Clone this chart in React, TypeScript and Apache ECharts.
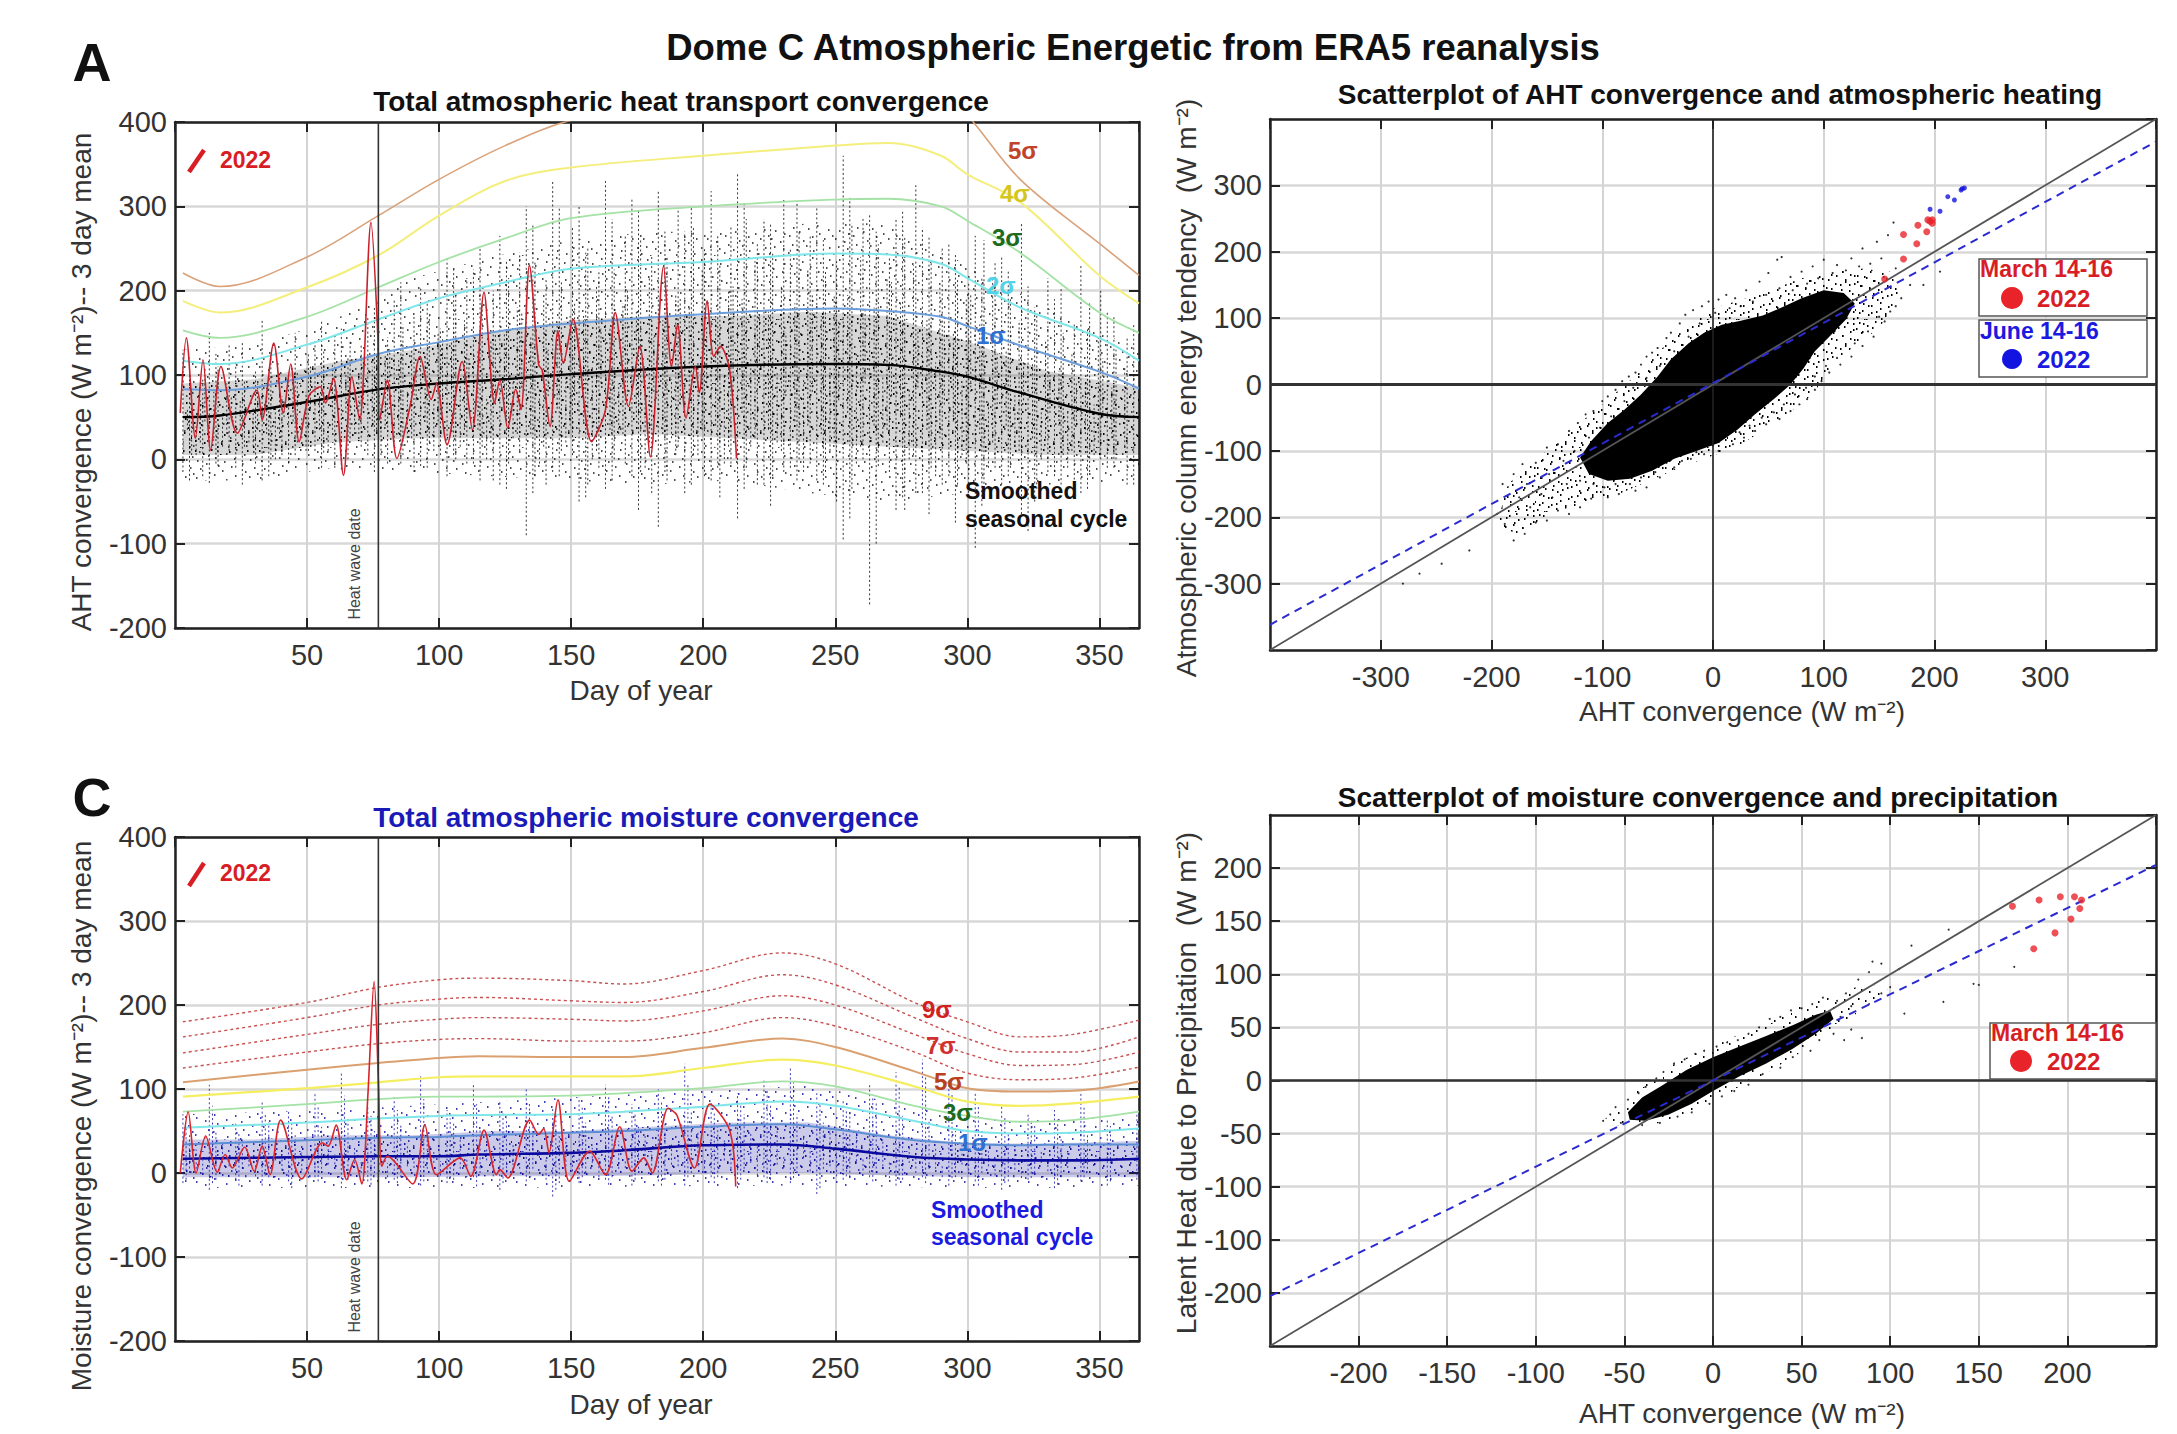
import React, { useEffect, useRef } from "react";
import * as echarts from "echarts";

const FONT = '"Liberation Sans", Arial, sans-serif';

// Shared sample days for the smooth climatology curves
const dayA = [3, 17, 50, 77, 100, 125, 150, 200, 250, 270, 290, 300, 320, 350, 365];
const sigma5A = [221, 205, 240, 289, 332, 372, 402, 430, 445, 448, 435, 408, 332, 256, 218];
const sigma4A = [188, 174, 204, 242, 289, 330, 346, 360, 372, 375, 360, 338, 305, 218, 185];
const sigma3A = [153, 144, 169, 204, 234, 262, 286, 300, 308, 309, 300, 283, 245, 174, 150];
const sigma2A = [117, 113, 136, 166, 191, 210, 226, 234, 244, 243, 232, 215, 180, 144, 117];
const sigma1A = [83, 82, 98, 125, 139, 153, 161, 172, 179, 176, 169, 158, 135, 104, 84];
const smoothA = [50, 52, 68, 83, 90, 95, 101, 110, 113, 112, 104, 98, 79, 54, 50];

const dayC = [3, 50, 77, 100, 115, 150, 170, 200, 230, 250, 280, 300, 320, 340, 365];
const sigma9C = [180, 203, 221, 230, 232, 229, 225, 241, 262, 249, 203, 180, 162, 165, 182];
const sigma8C = [162, 185, 200, 207, 209, 205, 203, 216, 236, 224, 185, 160, 144, 144, 162];
const sigma7C = [143, 165, 177, 183, 185, 183, 181, 193, 211, 200, 165, 142, 128, 129, 144];
const sigma6C = [125, 144, 154, 159, 160, 157, 157, 167, 185, 175, 144, 119, 111, 113, 126];
const sigma5C = [108, 123, 131, 137, 139, 138, 138, 149, 160, 150, 121, 101, 97, 98, 109];
const sigma4C = [91, 101, 108, 114, 115, 115, 115, 125, 135, 128, 103, 85, 80, 83, 91];
const sigma3C = [73, 82, 88, 91, 91, 92, 95, 101, 109, 103, 80, 68, 61, 63, 73];
const sigma2C = [54, 60, 65, 68, 69, 70, 73, 79, 85, 80, 62, 50, 47, 48, 53];
const sigma1C = [34, 39, 42, 43, 45, 48, 50, 55, 58, 52, 39, 35, 33, 34, 34];
const smoothC = [17, 19, 20, 20, 22, 24, 27, 33, 34, 29, 19, 16, 15, 15, 17];

// 2022 curves: day and value pairs read at each turning point
const red2022A = [[2,55],[4.3,144],[7.7,25],[10.6,118],[13.5,11],[17.4,110],[23.6,31],[31,82],[33,47],[37.4,138],[41,55],[43.8,113],[47,21],[50.7,75],[55,86],[57,67],[60,96],[63.8,-19],[67,98],[70,47],[71.3,94],[74.2,281],[76.8,146],[77.5,47],[80.4,94],[84,1],[89,63],[92.8,122],[97,71],[99,90],[103,17],[108.7,116],[112.6,35],[117,198],[121,67],[123,94],[126,37],[129,83],[131,59],[134.2,230],[137.7,112],[139,106],[142,39],[145,152],[147,114],[150.7,166],[157.7,21],[163,59],[166.7,174],[171.7,63],[176,134],[180,3],[185,229],[188,110],[190.3,160],[193.5,49],[197,110],[198.5,79],[201.5,188],[204,122],[206.5,134],[210,106],[212.6,1]];
const red2022C = [[2,0],[5,73],[8,0],[11.6,44],[16,1],[19,22],[21.7,6],[26.4,31],[30,2],[33,32],[36,-2],[40,63],[48,-7],[55.8,36],[58,32],[61,57],[65,-8],[68,16],[70.7,-13],[73,91],[75.4,228],[77,111],[78.3,8],[80.4,20],[90,-13],[94.6,57],[99,-2],[108,18],[112,-4],[117,51],[121.7,-2],[123,4],[126,-6],[134.3,63],[137.7,46],[139.6,53],[141.6,24],[145,87],[149.3,-10],[157,26],[163,-2],[168.4,55],[173,2],[177.5,18],[180.7,0],[186.7,77],[190,69],[196.7,6],[202.5,82],[210,51],[212.3,-16]];

// Daily spread of all years: high, low pairs, one pair every ten days
const noiseA1 = [130,-15,150,-28,115,-10,165,-25,95,-5,140,10,155,-12,170,5,190,15,205,-8,240,-20,225,-5,265,-30,300,-90,330,-15,300,-50,330,-35,310,-20,320,-80,270,-40,318,-25,340,-70,285,-30,250,-10,300,-25,360,-95,290,-172,285,-60,275,-40,255,-20,265,-105,240,-30,205,-85,190,-20,230,-40,175,-10,160,-30];
const noiseA2 = [85,5,110,-8,95,15,120,0,105,20,130,8,140,25,125,30,160,5,170,20,195,0,185,15,215,-5,235,-20,210,10,250,-30,225,0,260,-15,240,-25,275,5,230,-45,285,-10,245,-20,270,0,225,-15,280,-35,255,-8,265,-60,235,-10,215,-30,260,-45,190,-10,170,-35,150,5,185,-15,130,0,115,-25,145,5];
const noiseA3 = [70,20,90,30,60,15,105,25,80,10,115,35,100,30,125,40,135,25,150,45,165,35,140,20,180,30,190,15,170,40,205,10,185,30,215,20,195,5,225,35,200,15,235,25,205,10,225,40,195,20,240,15,215,35,230,5,205,25,190,-5,215,20,165,10,140,25,125,10,145,20,110,15,95,30];
const noiseA4 = [60,35,80,25,70,40,85,30,95,45,75,35,100,55,110,40,120,30,125,50,140,40,130,35,150,55,145,30,160,60,170,45,155,35,175,50,165,30,180,60,170,40,190,55,175,35,185,45,170,30,195,55,180,40,185,50,165,35,150,45,160,30,130,40,115,25,105,40,90,30,85,25];
const noiseA5 = [40,5,55,15,35,20,60,0,50,25,45,10,70,30,65,5,80,20,70,10,90,15,75,0,95,25,85,-5,100,20,110,0,90,30,105,-10,95,25,115,5,100,-5,120,15,105,20,95,-15,110,10,125,-5,100,20,85,0,115,-20,90,5,70,-10,80,15,60,0,55,-10,65,5];
const noiseA6 = [100,45,75,55,90,35,70,50,110,60,65,70,115,55,130,60,105,70,145,60,120,80,150,65,175,85,130,75,185,70,155,90,200,75,145,80,190,65,160,85,205,70,175,95,150,75,195,80,165,70,180,90,210,75,155,85,170,65,195,80,125,60,115,70,100,55,90,45,120,50];
const noiseA7 = [110,-25,125,-5,140,-30,100,-20,150,5,165,-10,120,0,180,-15,210,-5,185,-10,225,5,250,-25,235,-35,280,-40,300,-20,245,-45,285,-25,295,-60,270,-15,300,-30,265,-10,305,-35,280,-55,305,-25,260,-30,310,-70,270,-100,295,-45,265,-65,245,-75,215,-55,225,-20,180,-50,205,-30,155,-35,170,-10,125,-20];
const noiseA8 = [95,-20,135,10,105,-5,75,5,125,10,150,-10,135,15,145,-5,170,-15,155,5,215,-5,200,-25,245,10,215,-30,275,5,225,-10,265,-5,240,-40,295,15,250,-20,275,-5,255,-30,310,-15,265,-5,235,-50,285,0,240,-15,325,-40,250,-30,210,-45,235,-10,280,-65,215,-15,160,-40,200,0,145,-30,130,-5];
const noiseC1 = [70,-12,105,-20,60,-8,85,-15,75,-10,95,-5,120,-18,80,-10,90,-8,115,-15,75,-12,105,-5,85,-20,100,-10,78,-28,90,-12,105,-8,82,-15,100,-10,130,-15,85,-5,95,-18,110,-5,125,-12,95,-25,88,-8,105,-5,120,-15,135,-5,110,-15,95,-10,80,-20,70,-8,75,-18,95,-10,65,-15];
const noiseC2 = [45,0,50,-8,38,5,60,-5,45,0,55,5,65,-8,50,0,58,-5,48,5,60,-8,52,0,65,-5,55,5,48,-12,60,0,70,-5,55,5,62,-8,75,0,55,-5,70,5,80,-8,70,0,60,5,72,-5,85,0,68,-8,62,5,50,-5,45,0,48,-10,58,0,42,-5,50,5];
const noiseC3 = [28,5,35,12,22,8,30,15,25,3,38,10,32,6,28,14,35,8,25,12,40,5,30,15,36,4,28,18,42,8,30,12,38,5,45,15,35,10,50,8,40,15,48,12,55,10,45,18,52,8,48,14,40,8,32,12,30,5,36,10,26,8,34,4,28,12,25,6];
const noiseC4 = [15,-2,20,8,12,-4,18,3,10,-6,22,5,16,0,12,-5,20,6,14,-3,18,8,22,-4,12,5,16,-8,24,2,18,-5,14,6,26,-2,20,8,16,0,28,5,34,-3,22,6,30,2,24,-4,18,3,14,-6,20,0,10,-5,16,3,12,-3,8,-6,18,2];
const noiseC5 = [55,-8,80,-12,48,-15,72,-3,62,-18,78,-10,92,-5,68,-14,75,-12,88,-10,65,-6,82,-16,72,-12,85,-6,66,-20,78,-5,92,-14,70,-8,86,-15,105,-5,72,-12,82,-8,98,-12,108,-6,82,-18,76,-4,92,-10,102,-8,115,-12,96,-6,80,-15,68,-12,60,-6,64,-14,80,-5,56,-10,72,-8];

// Outlines of the spread: dense inner part and lighter outer part
const coreA = [[3,90],[30,95],[60,115],[90,130],[120,150],[150,165],[180,170],[210,170],[240,175],[270,170],[300,140],[330,105],[365,85],[365,5],[330,5],[300,10],[270,15],[240,20],[210,25],[180,30],[150,25],[120,25],[90,25],[60,20],[30,5],[3,5]];
const outerA = [[3,130],[30,135],[60,165],[90,215],[120,240],[150,260],[180,270],[210,270],[240,280],[270,280],[300,230],[330,180],[365,130],[365,-25],[330,-30],[300,-40],[270,-50],[240,-40],[210,-25],[180,-30],[150,-25],[120,-20],[90,-15],[60,-10],[30,-25],[3,-25]];
const coreC = [[3,40],[30,40],[60,45],[90,45],[120,50],[150,50],[180,55],[210,60],[240,60],[270,45],[300,35],[330,35],[365,38],[365,-5],[330,-5],[300,-5],[270,-3],[240,0],[210,0],[180,-3],[150,-4],[120,-4],[90,-5],[60,-5],[30,-5],[3,-5]];
const outerC = [[3,70],[60,75],[120,85],[180,95],[240,105],[270,85],[300,65],[330,65],[365,65],[365,-15],[330,-18],[300,-18],[240,-15],[180,-16],[120,-18],[60,-18],[3,-18]];

// Panel B
const marchB = [[155,159],[172,189],[172,226],[184,212],[185,240],[193,230],[194,248],[196,246],[198,248],[198,243]];
const juneB = [[196,264],[205,261],[212,283],[218,278],[224,293],[227,296],[225,295]];
const fitB = [[-400,-362],[400,366]];
const oneToOneB = [[-400,-400],[400,400]];
const densePolyB = [[-120,-110],[-110,-85],[-95,-58],[-80,-38],[-65,-15],[-50,12],[-38,38],[-22,62],[-8,78],[8,90],[25,96],[45,104],[62,116],[80,130],[100,142],[118,138],[128,122],[120,98],[105,72],[92,50],[82,25],[70,0],[55,-22],[38,-45],[22,-68],[5,-88],[-15,-100],[-35,-112],[-55,-130],[-75,-142],[-95,-145],[-112,-135]];
const haloPolyB = [[-195,-210],[-185,-150],[-140,-85],[-100,-30],[-62,25],[-40,65],[0,115],[40,135],[80,160],[130,175],[160,170],[170,135],[150,85],[110,35],[90,-15],[55,-60],[20,-95],[-30,-125],[-85,-165],[-140,-190],[-178,-225]];
const straysB = [[-190,-150],[-180,-135],[-172,-120],[-160,-118],[-150,-95],[-140,-90],[-130,-70],[-122,-58],[-115,-45],[-108,-40],[-100,-25],[-95,-18],[-88,-8],[-82,5],[-76,12],[-70,18],[-65,30],[-60,42],[-55,48],[-50,55],[-42,70],[-38,78],[-30,92],[-25,105],[-18,112],[-10,118],[-4,125],[5,128],[12,135],[20,130],[30,142],[42,155],[50,168],[58,188],[62,192],[70,162],[80,170],[90,178],[100,188],[112,180],[125,190],[135,205],[148,215],[158,225],[163,244],[-180,-235],[-170,-225],[-160,-208],[-150,-205],[-140,-190],[-130,-195],[-120,-185],[-110,-172],[-95,-170],[-85,-165],[-70,-160],[-60,-155],[-48,-140],[-35,-125],[-20,-112],[-8,-105],[5,-100],[18,-90],[28,-80],[38,-70],[48,-60],[60,-52],[70,-40],[78,-30],[85,-22],[92,-8],[98,5],[105,18],[115,30],[125,42],[135,58],[145,72],[155,95],[160,110],[170,130],[178,150],[190,150],[205,170],[-280,-300],[-265,-285],[-220,-250],[-245,-270],[-195,-195],[-188,-210],[-175,-170],[-168,-150],[-165,-185],[-155,-165],[-148,-135],[-145,-170],[-135,-115],[-132,-150],[-125,-100],[-120,-145],[-112,-80],[-108,-150],[-102,-65],[-98,-155],[-92,-48],[-88,-150],[-80,-25],[-75,-150],[-72,-5],[-65,-140],[-60,10],[-52,-132],[-48,28],[-42,-118],[-35,50],[-28,-115],[-22,72],[-15,-102],[-12,92],[0,-92],[2,108],[10,-80],[15,115],[24,-72],[25,118],[33,-62],[36,125],[44,-50],[48,135],[55,-42],[60,145],[64,-30],[72,142],[74,-15],[85,152],[84,-5],[95,160],[92,12],[108,168],[102,28],[120,172],[112,40],[132,178],[128,62],[142,182],[140,80],[152,190],[150,102],[165,175],[165,118]];
// Panel D
const marchD = [[169,164],[184,170],[196,173],[204,173],[208,170],[207,162],[202,152],[193,139],[181,124]];
const fitD = [[-250,-203],[250,203]];
const oneToOneD = [[-250,-250],[250,250]];
const densePolyD = [[-48,-30],[-40,-16],[-28,-4],[-15,10],[0,22],[15,32],[30,42],[45,52],[58,62],[66,66],[68,58],[58,44],[45,30],[30,16],[15,4],[0,-10],[-12,-22],[-25,-32],[-38,-38],[-47,-37]];
const haloPolyD = [[-62,-38],[-45,-12],[-20,18],[0,32],[30,55],[60,78],[85,90],[100,88],[80,62],[55,32],[25,2],[-5,-24],[-30,-40],[-50,-44]];
const straysD = [[-62,-38],[-58,-32],[-55,-25],[-52,-40],[-48,-18],[-42,-12],[-38,-6],[-32,2],[-28,8],[-22,16],[-16,20],[-10,25],[-5,28],[2,32],[8,36],[14,38],[20,44],[26,50],[32,58],[38,60],[44,66],[50,68],[56,72],[62,78],[70,75],[75,82],[82,95],[88,102],[95,110],[90,112],[105,105],[112,127],[133,142],[130,74],[147,91],[108,63],[84,40],[78,48],[74,38],[72,60],[68,44],[60,38],[55,28],[45,22],[38,12],[28,6],[20,-4],[12,-10],[5,-15],[-2,-22],[-12,-30],[-20,-34],[-30,-40],[-40,-42],[88,72],[95,82],[100,88],[78,70],[170,107],[150,90]];

const ticksDLabelOverride = [-150, "-100"];

// Stipple tile used as a fill style for the dense clouds
const stippleDots = [[3,2],[11,5],[19,1],[28,6],[37,3],[46,7],[55,2],[61,9],[6,11],[15,13],[23,10],[33,14],[41,12],[50,15],[58,18],[1,19],[10,21],[18,24],[27,20],[36,23],[44,19],[53,25],[62,27],[5,29],[13,31],[22,33],[31,29],[39,32],[48,28],[57,34],[2,38],[9,40],[17,37],[26,41],[35,38],[43,42],[52,39],[60,43],[7,47],[15,49],[24,46],[32,50],[41,47],[49,51],[56,48],[63,53],[3,56],[12,58],[20,55],[29,59],[38,56],[46,60],[54,57],[61,62],[8,63],[25,62],[43,63]];

function stipple(color: string, turned = false) {
  const c = document.createElement("canvas");
  c.width = 64; c.height = 64;
  const ctx = c.getContext("2d")!;
  ctx.fillStyle = color;
  stippleDots.forEach(([x, y]) => (turned ? ctx.fillRect(63 - y, x, 1.5, 2) : ctx.fillRect(x, y, 1.5, 2)));
  return { image: c.toDataURL(), repeat: "repeat", imageWidth: 64, imageHeight: 64 };
}

// Fixed page geometry of the four panels
const panels = [
  { left: 175, top: 122, width: 964, height: 506, xMin: 0, xMax: 365, xStep: 50, yMin: -200, yMax: 400, yStep: 100 },
  { left: 1270, top: 119, width: 886, height: 531, xMin: -400, xMax: 400, xStep: 100, yMin: -400, yMax: 400, yStep: 100 },
  { left: 175, top: 837, width: 964, height: 504, xMin: 0, xMax: 365, xStep: 50, yMin: -200, yMax: 400, yStep: 100 },
  { left: 1270, top: 815, width: 886, height: 531, xMin: -250, xMax: 250, xStep: 50, yMin: -250, yMax: 250, yStep: 50 },
];

const zip = (xs: number[], ys: number[]) => xs.map((x, i) => [x, ys[i]]);

function buildAxes() {
  const grid: any[] = [], xAxis: any[] = [], yAxis: any[] = [];
  panels.forEach((p, i) => {
    grid.push({ left: p.left, top: p.top, width: p.width, height: p.height, containLabel: false });
    const isSeason = p.xMin === 0;
    const common = {
      axisLine: { show: true, onZero: false, lineStyle: { color: "#222", width: 2.5 } },
      axisTick: { show: true, inside: true, length: 10, lineStyle: { color: "#222", width: 2 } },
    };
    const labelStyle = { color: "#333", fontFamily: FONT, fontSize: 29 };
    xAxis.push({
      type: "value", gridIndex: i, position: "bottom", min: p.xMin, max: p.xMax, interval: p.xStep, ...common,
      splitLine: { show: true, lineStyle: { color: "#d4d4d4", width: 2 } },
      axisLabel: { ...labelStyle, margin: 12, showMinLabel: false, showMaxLabel: false },
    });
    xAxis.push({
      type: "value", gridIndex: i, position: "top", min: p.xMin, max: p.xMax, interval: p.xStep, ...common,
      splitLine: { show: false }, axisLabel: { show: false },
    });
    yAxis.push({
      type: "value", gridIndex: i, position: "left", min: p.yMin, max: p.yMax, interval: p.yStep, ...common,
      splitLine: { show: true, lineStyle: { color: "#d8d8d8", width: 2.5 } },
      axisLabel: {
        ...labelStyle, margin: 8, showMinLabel: isSeason, showMaxLabel: isSeason,
        formatter: (v: number) => (i === 3 && v === ticksDLabelOverride[0] ? String(ticksDLabelOverride[1]) : String(v)),
      },
    });
    yAxis.push({
      type: "value", gridIndex: i, position: "right", min: p.yMin, max: p.yMax, interval: p.yStep, ...common,
      splitLine: { show: false }, axisLabel: { show: false },
    });
  });
  return { grid, xAxis, yAxis };
}

function line(panel: number, data: number[][], color: string, width: number, extra: any = {}) {
  return {
    type: "line", xAxisIndex: panel * 2, yAxisIndex: panel * 2, data, showSymbol: false, silent: true,
    lineStyle: { color, width, ...(extra.lineStyle || {}) }, smooth: extra.smooth ?? false, z: extra.z ?? 3,
    clip: true,
  };
}

function polygon(panel: number, pts: number[][], fill: any, opacity: number, z = 2) {
  return {
    type: "custom", coordinateSystem: "cartesian2d", xAxisIndex: panel * 2, yAxisIndex: panel * 2,
    data: pts, silent: true, clip: true, z,
    renderItem: (params: any, api: any) =>
      params.dataIndex === 0
        ? { type: "polygon", shape: { points: pts.map((v) => api.coord(v)) }, style: { fill, opacity } }
        : null,
  };
}

function scatter(panel: number, data: number[][], color: string, size: number, z = 5) {
  return {
    type: "scatter", xAxisIndex: panel * 2, yAxisIndex: panel * 2, data, symbolSize: size, silent: true,
    itemStyle: { color }, z,
  };
}

// One dotted vertical stroke from each low to its high
function noise(panel: number, values: number[], offset: number, color: string) {
  const data: number[][] = [];
  for (let i = 0; i + 1 < values.length; i += 2) {
    data.push([3 + offset + i * 5, values[i + 1], values[i]]);
  }
  return {
    type: "custom", coordinateSystem: "cartesian2d", xAxisIndex: panel * 2, yAxisIndex: panel * 2,
    data, silent: true, clip: true, z: 2, encode: { x: 0, y: [1, 2] },
    renderItem: (_: any, api: any) => {
      const a = api.coord([api.value(0), api.value(1)]);
      const b = api.coord([api.value(0), api.value(2)]);
      return {
        type: "line",
        shape: { x1: a[0], y1: a[1], x2: b[0], y2: b[1] },
        style: { stroke: color, lineWidth: 1, lineDash: [2, 2.5], opacity: 0.85 },
      };
    },
  };
}

function seasonSeries() {
  const s: any[] = [];
  const curve = (p: number, d: number[], v: number[], c: string, w: number, dashed = false, z = 3) =>
    s.push(line(p, zip(d, v), c, w, { smooth: 0.35, z, lineStyle: dashed ? { type: [3, 3] } : {} }));
  // Panel A
  s.push(polygon(0, outerA, stipple("#000000", true), 0.7));
  s.push(polygon(0, coreA, stipple("#000000"), 1));
  s.push(polygon(0, coreA, "#000000", 0.16));
  [noiseA1, noiseA2, noiseA3, noiseA4, noiseA5, noiseA6, noiseA7, noiseA8].forEach((n, i) =>
    s.push(noise(0, n, [0, 3.3, 6.6, 1.7, 5, 8.3, 2.5, 7.5][i], "#111")));
  curve(0, dayA, sigma5A, "#d9a27a", 1.6);
  curve(0, dayA, sigma4A, "#f4ee7c", 2);
  curve(0, dayA, sigma3A, "#a4e2a6", 1.8);
  curve(0, dayA, sigma2A, "#7fe6ea", 2);
  curve(0, dayA, sigma1A, "#6c9edc", 2);
  curve(0, dayA, smoothA, "#000000", 2.4, false, 4);
  s.push(line(0, red2022A, "#c9202c", 1.6, { smooth: 0.3, z: 5 }));
  s.push(line(0, [[77, -200], [77, 400]], "#333", 1.6, { z: 6 }));
  // Panel C
  s.push(polygon(2, outerC, stipple("#12129a", true), 0.8));
  s.push(polygon(2, coreC, stipple("#12129a"), 1));
  s.push(polygon(2, coreC, "#12129a", 0.22));
  [noiseC1, noiseC2, noiseC3, noiseC4, noiseC5].forEach((n, i) => s.push(noise(2, n, [0, 2.5, 5, 7.5, 1.2][i], "#1a1aa8")));
  [sigma9C, sigma8C, sigma7C, sigma6C].forEach((v) => curve(2, dayC, v, "#c85050", 1.4, true));
  curve(2, dayC, sigma5C, "#dba070", 2);
  curve(2, dayC, sigma4C, "#f4ee60", 2.2);
  curve(2, dayC, sigma3C, "#a4e2a6", 1.8);
  curve(2, dayC, sigma2C, "#7fe6ea", 2);
  curve(2, dayC, sigma1C, "#5c8ed4", 2);
  curve(2, dayC, smoothC, "#0a0a9e", 2.6, false, 4);
  s.push(line(2, red2022C, "#d8242c", 1.6, { smooth: 0.3, z: 5 }));
  s.push(line(2, [[77, -200], [77, 400]], "#333", 1.6, { z: 6 }));
  return s;
}

function scatterSeries() {
  const s: any[] = [];
  const dots = stipple("#000000");
  const dots2 = stipple("#000000", true);
  // Panel B
  s.push(line(1, [[-400, 0], [400, 0]], "#333", 3, { z: 4 }));
  s.push(line(1, [[0, -400], [0, 400]], "#222", 1.6, { z: 4 }));
  s.push(polygon(1, haloPolyB, dots, 1));
  s.push(polygon(1, haloPolyB, dots2, 1));
  s.push(polygon(1, densePolyB, "#000000", 1, 3));
  s.push(scatter(1, straysB, "#000000", 2.2, 3));
  s.push(line(1, oneToOneB, "#555", 1.8, { z: 5 }));
  s.push(line(1, fitB, "#2a2ad0", 2, { z: 6, lineStyle: { type: [8, 6] } }));
  s.push(scatter(1, marchB, "#e8242a", 7, 7));
  s.push(scatter(1, juneB, "#1414e0", 5, 7));
  // Panel D
  s.push(line(3, [[-250, 0], [250, 0]], "#333", 2.5, { z: 4 }));
  s.push(line(3, [[0, -250], [0, 250]], "#222", 1.6, { z: 4 }));
  s.push(polygon(3, haloPolyD, dots, 1));
  s.push(polygon(3, densePolyD, "#000000", 1, 3));
  s.push(scatter(3, straysD, "#000000", 2, 3));
  s.push(line(3, oneToOneD, "#555", 1.8, { z: 5 }));
  s.push(line(3, fitD, "#2a2ad0", 2, { z: 6, lineStyle: { type: [8, 6] } }));
  s.push(scatter(3, marchD, "#e8242a", 7, 7));
  return s;
}

function txt(x: number, y: number, text: string, size: number, fill: string, bold = true, extra: any = {}) {
  return {
    type: "text", x, y, z: 20, rotation: extra.rotation ?? 0,
    style: {
      text, fill, fontFamily: FONT, fontSize: size, fontWeight: bold ? "bold" : "normal",
      align: extra.align ?? "left", verticalAlign: "middle",
    },
  };
}
const UP = Math.PI / 2;

function buildGraphics() {
  const RED = "#d81e24", BLUE = "#1a1ae0";
  const g: any[] = [
    txt(1133, 47, "Dome C Atmospheric Energetic from ERA5 reanalysis", 36.5, "#111", true, { align: "center" }),
    txt(92, 62, "A", 54, "#111", true, { align: "center" }),
    txt(92, 797, "C", 54, "#111", true, { align: "center" }),
    txt(681, 101, "Total atmospheric heat transport convergence", 28, "#111", true, { align: "center" }),
    txt(646, 817, "Total atmospheric moisture convergence", 28, "#1a1ab8", true, { align: "center" }),
    txt(1720, 94, "Scatterplot of AHT convergence and atmospheric heating", 28, "#111", true, { align: "center" }),
    txt(1698, 797, "Scatterplot of moisture convergence and precipitation", 28, "#111", true, { align: "center" }),
    // axis names
    txt(81, 382, "AHT convergence (W m⁻²)-- 3 day mean", 28, "#333", false, { align: "center", rotation: UP }),
    txt(81, 1116, "Moisture convergence (W m⁻²)-- 3 day mean", 28, "#333", false, { align: "center", rotation: UP }),
    txt(1186, 388, "Atmospheric column energy tendency  (W m⁻²)", 28, "#333", false, { align: "center", rotation: UP }),
    txt(1186, 1083, "Latent Heat due to Precipitation  (W m⁻²)", 28, "#333", false, { align: "center", rotation: UP }),
    txt(641, 690, "Day of year", 28, "#333", false, { align: "center" }),
    txt(641, 1404, "Day of year", 28, "#333", false, { align: "center" }),
    txt(1742, 711, "AHT convergence (W m⁻²)", 28, "#333", false, { align: "center" }),
    txt(1742, 1413, "AHT convergence (W m⁻²)", 28, "#333", false, { align: "center" }),
    // heat wave tags
    txt(354, 564, "Heat wave date", 16, "#444", false, { align: "center", rotation: UP }),
    txt(354, 1277, "Heat wave date", 16, "#444", false, { align: "center", rotation: UP }),
    // 2022 keys
    { type: "line", z: 20, shape: { x1: 189, y1: 172, x2: 204, y2: 150 }, style: { stroke: RED, lineWidth: 4.5 } },
    txt(220, 160, "2022", 23, RED),
    { type: "line", z: 20, shape: { x1: 189, y1: 886, x2: 204, y2: 863 }, style: { stroke: RED, lineWidth: 4.5 } },
    txt(220, 873, "2022", 23, RED),
    // sigma labels A
    txt(1008, 150, "5σ", 24, "#c0442a"),
    txt(1000, 193, "4σ", 24, "#d4c520"),
    txt(992, 237, "3σ", 24, "#1e6a1e"),
    txt(986, 285, "2σ", 24, "#4fd4e8"),
    txt(976, 335, "1σ", 24, "#2f6fd0"),
    txt(965, 491, "Smoothed", 23, "#111"),
    txt(965, 519, "seasonal cycle", 23, "#111"),
    // sigma labels C
    txt(922, 1009, "9σ", 24, "#d02020"),
    txt(926, 1045, "7σ", 24, "#d03030"),
    txt(934, 1081, "5σ", 24, "#b84020"),
    txt(943, 1112, "3σ", 24, "#1e6a1e"),
    txt(958, 1142, "1σ", 24, "#2f6fd0"),
    txt(931, 1210, "Smoothed", 23, BLUE),
    txt(931, 1237, "seasonal cycle", 23, BLUE),
    // B key boxes
    { type: "rect", z: 19, shape: { x: 1979, y: 259, width: 168, height: 57 }, style: { fill: "#fff", stroke: "#555", lineWidth: 1.5 } },
    txt(1980, 269, "March 14-16", 23, RED),
    { type: "circle", z: 20, shape: { cx: 2012, cy: 298, r: 11 }, style: { fill: "#e8242a" } },
    txt(2037, 298, "2022", 24, RED),
    { type: "rect", z: 19, shape: { x: 1979, y: 320, width: 168, height: 57 }, style: { fill: "#fff", stroke: "#555", lineWidth: 1.5 } },
    txt(1980, 331, "June 14-16", 23, BLUE),
    { type: "circle", z: 20, shape: { cx: 2012, cy: 359, r: 10 }, style: { fill: "#1414e0" } },
    txt(2037, 359, "2022", 24, BLUE),
    // D key box
    { type: "rect", z: 19, shape: { x: 1990, y: 1023, width: 166, height: 56 }, style: { fill: "#fff", stroke: "#555", lineWidth: 1.5 } },
    txt(1991, 1033, "March 14-16", 23, RED),
    { type: "circle", z: 20, shape: { cx: 2021, cy: 1061, r: 11 }, style: { fill: "#e8242a" } },
    txt(2047, 1061, "2022", 24, RED),
  ];
  return g;
}

export default function App() {
  const ref = useRef<HTMLDivElement>(null);
  useEffect(() => {
    document.body.style.margin = "0";
    const chart = echarts.init(ref.current!, undefined, { renderer: "svg" });
    chart.setOption({
      animation: false,
      backgroundColor: "#ffffff",
      ...buildAxes(),
      series: [...seasonSeries(), ...scatterSeries()],
      graphic: { elements: buildGraphics() },
    });
    return () => chart.dispose();
  }, []);
  return <div ref={ref} style={{ width: 2177, height: 1434 }} />;
}
